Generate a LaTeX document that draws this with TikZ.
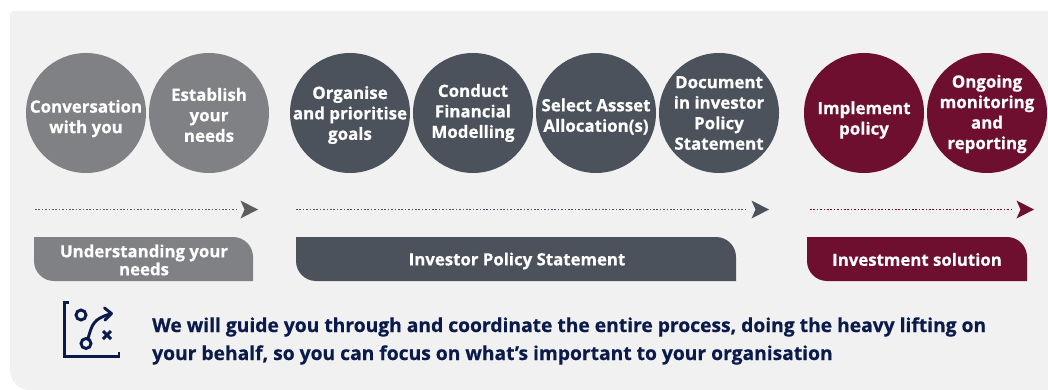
\documentclass[tikz,border=0pt]{standalone}
\usepackage{fontspec}
\setmainfont{Open Sans}[BoldFeatures={FakeBold=0.6}]
\definecolor{panelc}{HTML}{F1F1F1}
\definecolor{greyc}{HTML}{808184}
\definecolor{headgrey}{HTML}{5C5D60}
\definecolor{slatec}{HTML}{4B525C}
\definecolor{maroonc}{HTML}{6E0F30}
\definecolor{navyc}{HTML}{0A1A4A}
\tikzset{
  stage/.style={circle,minimum size=120pt,inner sep=0pt,fill=#1},
  stagetext/.style={text=white,align=center,inner sep=0pt,
    font=\fontsize{16.9}{20.5}\selectfont\bfseries},
  tablabel/.style={text=white,align=center,inner sep=0pt,font=\fontsize{16.8}{18}\selectfont\bfseries},
  flowdots/.style={draw=#1,line width=1.6pt,dash pattern=on 1.6pt off 1.8pt},
  icon/.style={draw=navyc,line width=2.9pt}
}
\newcommand{\tabshape}[3]{\fill[#1] (#2,237) -- (#3-20,237) arc[start angle=-90,end angle=0,radius=20] -- (#3,281) -- (#2+20,281) arc[start angle=90,end angle=180,radius=20] -- cycle;}
\newcommand{\flowarrow}[3]{%
  \draw[flowdots=#1] (#2) -- ([xshift=-21pt]#3);
  \fill[#1] (#3) -- ++(-17.5,-9) -- ++(4,9) -- ++(-4,9) -- cycle;}
\begin{document}
\begin{tikzpicture}[x=1pt,y=-1pt]
\useasboundingbox (0,0) rectangle (1048,390);
\fill[white] (0,0) rectangle (1048,390);
\fill[panelc] (1048,11) -- (14,11) arc[start angle=-90,end angle=-180,radius=4] -- (10,370) arc[start angle=180,end angle=90,radius=20] -- (1048,390) -- cycle;

\node[stage=greyc,label={[stagetext,yshift=-5.5pt]center:Conversation\\with you}] (c1) at (86,113) {};
\node[stage=greyc,label={[stagetext,yshift=-2pt]center:Establish\\your\\needs}] (c2) at (209,113) {};
\node[stage=slatec,label={[stagetext,yshift=-2pt]center:Organise\\and prioritise\\goals}] (c3) at (350,113) {};
\node[stage=slatec,label={[stagetext,yshift=0pt]center:Conduct\\Financial\\Modelling}] (c4) at (473,113) {};
\node[stage=slatec,label={[stagetext,yshift=-3.5pt]center:Select Assset\\Allocation(s)}] (c5) at (596,113) {};
\node[stage=slatec,label={[stagetext,yshift=0pt]center:Document\\in investor\\Policy\\Statement}] (c6) at (719,113) {};
\node[stage=maroonc,label={[stagetext,yshift=-7pt]center:Implement\\policy}] (c7) at (864,113) {};
\node[stage=maroonc,label={[stagetext,yshift=-1pt]center:Ongoing\\monitoring\\and\\reporting}] (c8) at (987,113) {};

\coordinate (a1s) at (35,209.5); \coordinate (a1e) at (258,209.5);
\coordinate (a2s) at (296,209.5); \coordinate (a2e) at (769,209.5);
\coordinate (a3s) at (810,209.5); \coordinate (a3e) at (1034,209.5);
\flowarrow{headgrey}{a1s}{a1e}
\flowarrow{slatec}{a2s}{a2e}
\flowarrow{maroonc}{a3s}{a3e}

\tabshape{greyc}{34}{253}
\tabshape{slatec}{296}{736}
\tabshape{maroonc}{807}{1027}
\node[tablabel] (t1) at (144,260) {Understanding your\\needs};
\node[tablabel] (t2) at (517,261) {Investor Policy Statement};
\node[tablabel] (t3) at (917,259.5) {Investment solution};

% icon
\draw[icon] (69,302.5) -- (64.5,302.5) -- (64.5,356.5) -- (119,356.5) -- (119,352);
\draw[icon] (81,315) circle (5);
\draw[icon] (86,343.5) circle (5);
\draw[icon,line cap=round,line join=round] (88,338.5) .. controls (92,325) and (93,319) .. (110,314);
\draw[icon,line cap=round,line join=round] (104.5,308) -- (111.5,313.5) -- (105,320);
\draw[icon] (103,331) -- (111,339) (111,331) -- (103,339);

\node[anchor=base west,inner sep=0pt,text=navyc,align=left,
  font=\fontsize{19.25}{28}\selectfont\bfseries] (msg) at (152,360)
  {We will guide you through and coordinate the entire process, doing the heavy lifting on\\your behalf, so you can focus on what’s important to your organisation};
\end{tikzpicture}
\end{document}
